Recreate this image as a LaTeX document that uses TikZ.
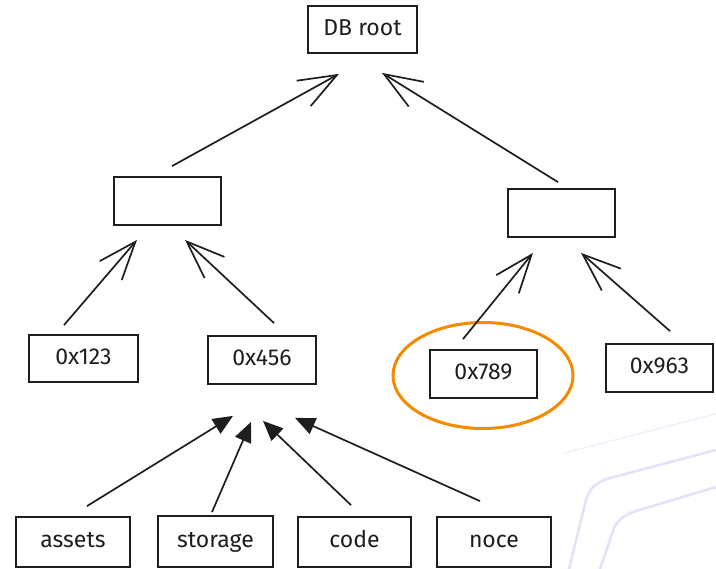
\documentclass[tikz,border=0pt]{standalone}
\usepackage{fontspec}
\setmainfont{Fira Sans}
\usetikzlibrary{arrows.meta,calc,shapes.geometric}
\definecolor{ink}{HTML}{1E1E1E}
\definecolor{hlorange}{HTML}{F48A00}
\definecolor{lav}{HTML}{E4E2FA}
\tikzset{
  box/.style={draw=ink, line width=1.8pt, rectangle, inner sep=0pt, minimum height=48pt, font=\fontsize{23}{24}\selectfont, text=ink, text height=16pt, text depth=4pt},
  openarr/.style={draw=ink, line width=1.7pt, -{Straight Barb[length=38pt,width=29pt,line width=1.7pt]}},
  fillarr/.style={draw=ink, line width=1.7pt, -{Triangle[length=20pt,width=17pt]}},
}
\begin{document}
\begin{tikzpicture}[x=1pt,y=-1pt]
\useasboundingbox (0,0) rectangle (716,569);
\fill[white] (0,0) rectangle (716,569);
% faint background lines
\draw[lav!70, line width=1pt] (564,453) -- (716,414);
\draw[lav, line width=2.6pt] (569,569) -- (586,500) .. controls (590,488) and (596,482) .. (610,478) -- (716,450);
\draw[lav, line width=2.6pt] (600,569) -- (614,528) .. controls (618,520) and (624,515) .. (636,511) -- (716,487);
% nodes
\node[box, minimum width=109pt, minimum height=47pt] (root) at (362.5,29.5) {DB root};
\node[box, minimum width=107pt] (L) at (167.5,201) {};
\node[box, minimum width=107pt] (R) at (561.5,213) {};
\node[box, minimum width=109pt, minimum height=47pt] (a123) at (83.5,358.5) {0x123};
\node[box, minimum width=108pt] (a456) at (262,360) {0x456};
\node[box, minimum width=107pt] (a789) at (483.5,374) {0x789};
\node[box, minimum width=107pt] (a963) at (659.5,368) {0x963};
\node[box, minimum width=114pt, minimum height=50pt] (assets) at (73,542) {assets};
\node[box, minimum width=115pt, minimum height=51pt] (storage) at (215.5,541.5) {storage};
\node[box, minimum width=113pt, minimum height=50pt] (code) at (354.5,542) {code};
\node[box, minimum width=114pt, minimum height=50pt] (noce) at (494,542) {noce};
\node[draw=hlorange, line width=3pt, ellipse, minimum width=180pt, minimum height=106pt] (hl) at (483,375.5) {};
% connectors
\draw[openarr] ($(L.north)+(4.5,-10)$) -- ($(root.south)+(-23.5,20)$);
\draw[openarr] ($(R.north)+(-3.5,-6)$) -- ($(root.south)+(19.5,19)$);
\draw[openarr] ($(a123.north)+(-19.5,-9)$) -- ($(L.south)+(-30.5,14)$);
\draw[openarr] ($(a456.north)+(12,-12)$) -- ($(L.south)+(17.5,14)$);
\draw[openarr] ($(a789.north)+(-20.5,-10)$) -- ($(R.south)+(-28.5,15)$);
\draw[openarr] ($(a963.north)+(10.5,-12)$) -- ($(R.south)+(19.5,15)$);
\draw[fillarr] ($(assets.north)+(14,-10)$) -- ($(a456.south)+(-29,31)$);
\draw[fillarr] ($(storage.north)+(-3.5,-3)$) -- ($(a456.south)+(-11,37)$);
\draw[fillarr] ($(code.north)+(-3.5,-11)$) -- ($(a456.south)+(1,36)$);
\draw[fillarr] ($(noce.north)+(-14,-15)$) -- ($(a456.south)+(33,33)$);
\end{tikzpicture}
\end{document}
